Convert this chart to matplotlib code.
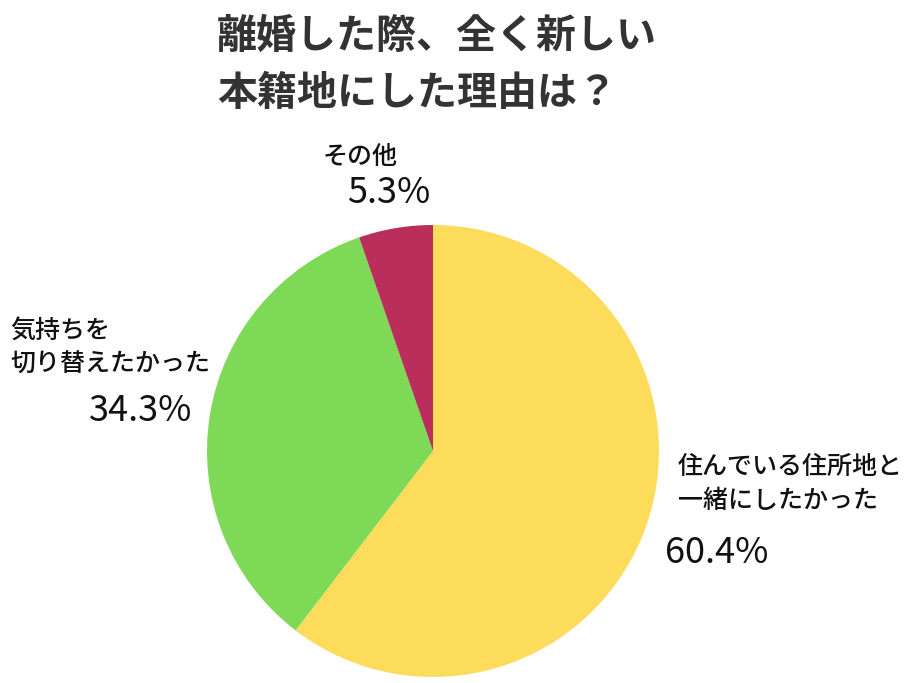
import matplotlib
matplotlib.use("Agg")
import matplotlib.pyplot as plt

plt.rcParams['font.family'] = ['Noto Sans CJK JP', 'DejaVu Sans']

# data
labels = ['住んでいる住所地と\n一緒にしたかった', '気持ちを\n切り替えたかった', 'その他']
values = [60.4, 34.3, 5.3]
colors = ['#FDDC5C', '#7ED957', '#BA2E5C']
title = '離婚した際、全く新しい\n本籍地にした理由は？'

W, H = 913, 683
fig = plt.figure(figsize=(W / 100, H / 100), dpi=100)
ax = fig.add_axes([0, 0, 1, 1])

ax.pie(values, colors=colors, startangle=90, counterclock=False,
       center=(433, H - 451), radius=226, frame=True,
       wedgeprops=dict(linewidth=0))
ax.set_xlim(0, W)
ax.set_ylim(0, H)
ax.set_aspect('equal')
ax.axis('off')

# title
ax.text(217, H - 65, title, fontsize=28.8, fontweight='bold', color='#333333',
        ha='left', va='center', linespacing=1.5)

# labels (name + percent)
label_pos = [(678, H - 484), (10, H - 348), (323, H - 157)]
pct_pos = [(665, H - 553), (89, H - 411), (347, H - 193)]
for lab, v, (lx, ly), (px, py) in zip(labels, values, label_pos, pct_pos):
    ax.text(lx, ly, lab, fontsize=18, fontweight='medium', color='#111111',
            ha='left', va='center', linespacing=1.4)
    ax.text(px, py, f'{v}%', fontsize=26, color='#111111', ha='left', va='center')

fig.savefig('out.png', dpi=100, facecolor='white')
